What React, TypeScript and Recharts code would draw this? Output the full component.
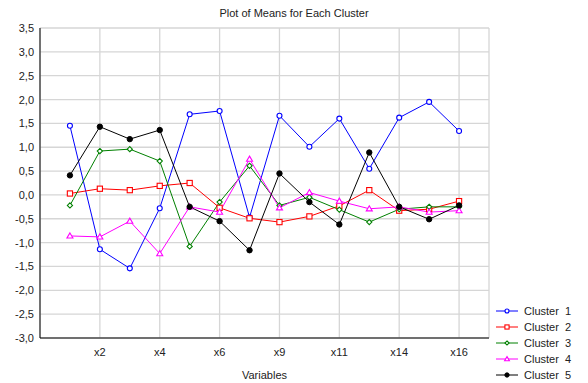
import { LineChart, Line, XAxis, YAxis, CartesianGrid, Legend, Customized } from 'recharts';

const variables = ['x1', 'x2', 'x3', 'x4', 'x5', 'x6', 'x7', 'x9', 'x10', 'x11', 'x12', 'x14', 'x15', 'x16'];
const labeledVariables = ['x2', 'x4', 'x6', 'x9', 'x11', 'x14', 'x16'];

const cluster1 = [1.45, -1.14, -1.54, -0.28, 1.69, 1.76, -0.47, 1.66, 1.01, 1.6, 0.55, 1.62, 1.95, 1.34];
const cluster2 = [0.03, 0.13, 0.1, 0.19, 0.25, -0.27, -0.49, -0.57, -0.45, -0.23, 0.1, -0.33, -0.3, -0.13];
const cluster3 = [-0.22, 0.92, 0.96, 0.71, -1.08, -0.15, 0.61, -0.22, -0.05, -0.31, -0.57, -0.3, -0.25, -0.25];
const cluster4 = [-0.86, -0.88, -0.55, -1.23, -0.25, -0.36, 0.75, -0.27, 0.05, -0.13, -0.29, -0.25, -0.36, -0.33];
const cluster5 = [0.41, 1.43, 1.17, 1.36, -0.25, -0.55, -1.16, 0.45, -0.15, -0.62, 0.89, -0.25, -0.51, -0.22];

const yTicks = [-3.0, -2.5, -2.0, -1.5, -1.0, -0.5, 0.0, 0.5, 1.0, 1.5, 2.0, 2.5, 3.0, 3.5];
const yMinorTicks = Array.from({ length: 66 }, (_, i) => Math.round((-3 + i * 0.1) * 10) / 10);
const xPositions = variables.map((_, i) => i + 1);
const xLabelPositions = xPositions.filter((p) => labeledVariables.includes(variables[p - 1]));

const data = variables.map((name, i) => ({
  pos: i + 1,
  name,
  c1: cluster1[i],
  c2: cluster2[i],
  c3: cluster3[i],
  c4: cluster4[i],
  c5: cluster5[i],
}));

const series = [
  { key: 'c1', name: 'Cluster  1', color: '#0000ff', shape: 'circle' },
  { key: 'c2', name: 'Cluster  2', color: '#ff0000', shape: 'square' },
  { key: 'c3', name: 'Cluster  3', color: '#008000', shape: 'diamond' },
  { key: 'c4', name: 'Cluster  4', color: '#ff00ff', shape: 'triangle' },
  { key: 'c5', name: 'Cluster  5', color: '#000000', shape: 'dot' },
];

const FONT = '"Liberation Sans", Arial, sans-serif';
const TEXT = '#222';
const W = 588;
const H = 383;
const PLOT_LEFT = 40;
const PLOT_RIGHT = 489;
const PLOT_TOP = 28;
const PLOT_BOTTOM = 338;

function Marker({ cx, cy, shape, color, s = 1 }: { cx: number; cy: number; shape: string; color: string; s?: number }) {
  if (cx == null || cy == null) return null;
  switch (shape) {
    case 'circle':
      return <circle cx={cx} cy={cy} r={2.5 * s} fill="#fff" stroke={color} strokeWidth={1.1} />;
    case 'square':
      return <rect x={cx - 2.6 * s} y={cy - 2.6 * s} width={5.2 * s} height={5.2 * s} fill="#fff" stroke={color} strokeWidth={1.1} />;
    case 'diamond': {
      const d = 2.6 * s;
      return <polygon points={`${cx},${cy - d} ${cx + d},${cy} ${cx},${cy + d} ${cx - d},${cy}`} fill="#fff" stroke={color} strokeWidth={1.1} />;
    }
    case 'triangle': {
      const d = 3 * s;
      return <polygon points={`${cx},${cy - d} ${cx + d},${cy + d * 0.7} ${cx - d},${cy + d * 0.7}`} fill="#fff" stroke={color} strokeWidth={1.1} />;
    }
    default:
      return <circle cx={cx} cy={cy} r={2.7 * s} fill={color} stroke={color} strokeWidth={1} />;
  }
}

const YLabelTick = (props: any) => {
  const { y, payload } = props;
  return (
    <text x={PLOT_LEFT - 6} y={y + 4} textAnchor="end" fontSize={11} fontFamily={FONT} fill={TEXT}>
      {payload.value.toFixed(1).replace('.', ',')}
    </text>
  );
};

const XLabelTick = (props: any) => {
  const { x, payload } = props;
  return (
    <text x={x} y={PLOT_BOTTOM + 18} textAnchor="middle" fontSize={11} fontFamily={FONT} fill={TEXT}>
      {variables[payload.value - 1]}
    </text>
  );
};

// small tick marks on left and right frame
const YMarkTick = (props: any) => {
  const { y, payload } = props;
  const major = Math.abs(payload.value * 2 - Math.round(payload.value * 2)) < 1e-6;
  const len = major ? 4 : 2;
  return (
    <g>
      <line x1={PLOT_LEFT} x2={PLOT_LEFT - len} y1={y} y2={y} stroke="#000" />
      <line x1={PLOT_RIGHT} x2={PLOT_RIGHT + len} y1={y} y2={y} stroke="#000" />
    </g>
  );
};

// small tick marks on top and bottom frame
const XMarkTick = (props: any) => {
  const { x } = props;
  return (
    <g>
      <line x1={x} x2={x} y1={PLOT_TOP} y2={PLOT_TOP + 4} stroke="#000" />
      <line x1={x} x2={x} y1={PLOT_BOTTOM} y2={PLOT_BOTTOM - 4} stroke="#000" />
    </g>
  );
};

const renderLegend = () => (
  <div style={{ fontFamily: FONT, fontSize: 11, color: TEXT }}>
    {series.map((s) => (
      <div key={s.key} style={{ height: 16, display: 'flex', alignItems: 'center' }}>
        <svg width={24} height={16} style={{ display: 'block' }}>
          <line x1={1} x2={23} y1={8} y2={8} stroke={s.color} />
          <Marker cx={12} cy={8} shape={s.shape} color={s.color} s={0.8} />
        </svg>
        <span style={{ whiteSpace: 'pre', marginLeft: 5 }}>{s.name}</span>
      </div>
    ))}
  </div>
);

const Title = () => (
  <text x={W / 2} y={17} textAnchor="middle" fontSize={11} fontFamily={FONT} fill={TEXT}>
    Plot of Means for Each Cluster
  </text>
);

export default function App() {
  return (
    <div style={{ position: 'absolute', left: 0, top: 0, width: W, height: H, background: '#fff' }}>
      <LineChart width={W} height={H} data={data} margin={{ top: PLOT_TOP, right: W - PLOT_RIGHT, bottom: 0, left: 0 }}>
        <CartesianGrid xAxisId="bottom" yAxisId="left" stroke="#d6d6d6" strokeWidth={1.3} />
        <XAxis
          xAxisId="bottom"
          dataKey="pos"
          type="number"
          domain={[0, 15]}
          ticks={xLabelPositions}
          tick={<XLabelTick />}
          tickLine={false}
          height={H - PLOT_BOTTOM}
          axisLine={{ stroke: '#000' }}
          label={{ value: 'Variables', position: 'insideBottom', offset: 4, fontSize: 11, fontFamily: FONT, fill: TEXT }}
        />
        <XAxis
          xAxisId="top"
          orientation="top"
          dataKey="pos"
          type="number"
          domain={[0, 15]}
          ticks={xPositions}
          tick={<XMarkTick />}
          tickLine={false}
          height={0}
          axisLine={{ stroke: '#000' }}
        />
        <YAxis
          yAxisId="left"
          type="number"
          domain={[-3, 3.5]}
          ticks={yTicks}
          tick={<YLabelTick />}
          tickLine={false}
          width={PLOT_LEFT}
          axisLine={{ stroke: '#000' }}
        />
        <YAxis
          yAxisId="right"
          orientation="right"
          type="number"
          domain={[-3, 3.5]}
          ticks={yMinorTicks}
          tick={<YMarkTick />}
          tickLine={false}
          width={0}
          axisLine={{ stroke: '#000' }}
        />
        {series.map((s) => (
          <Line
            key={s.key}
            xAxisId="bottom"
            yAxisId="left"
            type="linear"
            dataKey={s.key}
            name={s.name}
            stroke={s.color}
            strokeWidth={1}
            dot={(p: any) => <Marker key={`${s.key}-${p.index}`} cx={p.cx} cy={p.cy} shape={s.shape} color={s.color} />}
            activeDot={false}
            isAnimationActive={false}
          />
        ))}
        <Legend
          layout="vertical"
          align="center"
          verticalAlign="middle"
          content={renderLegend}
          wrapperStyle={{ left: 495, top: 302.5, width: 92 }}
        />
        <Customized component={<Title />} />
      </LineChart>
    </div>
  );
}
